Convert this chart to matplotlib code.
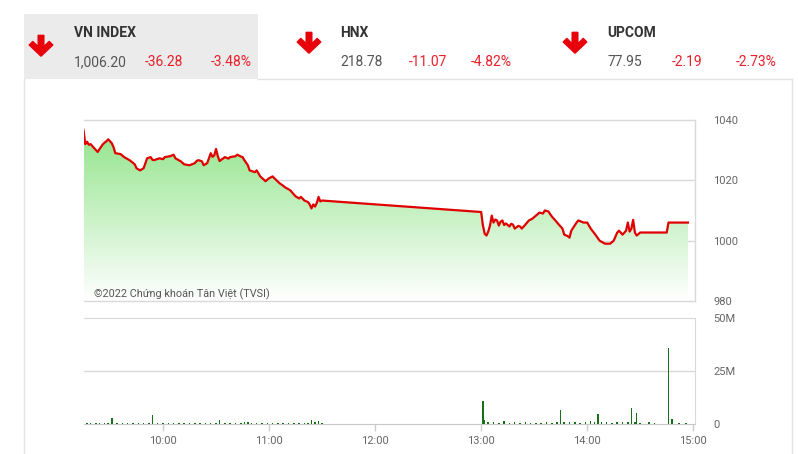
import matplotlib
matplotlib.use("Agg")
import matplotlib.pyplot as plt
import numpy as np
from matplotlib import font_manager as fm
from matplotlib.patches import Rectangle, Polygon

# ---------------- data ----------------
price_times = ["9:15", "9:16", "9:17", "9:18", "9:19", "9:21", "9:23", "9:24", "9:26", "9:28", "9:29",
               "9:31", "9:32", "9:33", "9:36", "9:37", "9:38", "9:41", "9:43", "9:44", "9:45", "9:47",
               "9:49", "9:51", "9:53", "9:54", "9:55", "9:58", "10:00", "10:01", "10:04", "10:06",
               "10:07", "10:10", "10:12", "10:15", "10:18", "10:19", "10:20", "10:22", "10:23", "10:25",
               "10:27", "10:28", "10:29", "10:30", "10:31", "10:32", "10:35", "10:37", "10:38", "10:41",
               "10:42", "10:44", "10:45", "10:46", "10:48", "10:49", "10:52", "10:53", "10:55", "10:58",
               "11:00", "11:02", "11:03", "11:06", "11:08", "11:09", "11:12", "11:13", "11:15", "11:17",
               "11:18", "11:20", "11:22", "11:23", "11:24", "11:25", "11:26", "11:27", "11:28", "11:29",
               "11:30",
               "13:00", "13:01", "13:02", "13:03", "13:04", "13:05", "13:06", "13:07", "13:08", "13:09",
               "13:10", "13:11", "13:12", "13:13", "13:14", "13:16", "13:17", "13:18", "13:19", "13:21",
               "13:22", "13:23", "13:25", "13:27", "13:29", "13:31", "13:33", "13:35", "13:36", "13:38",
               "13:40", "13:42", "13:44", "13:46", "13:47", "13:49", "13:50", "13:51", "13:54", "13:55",
               "13:58", "14:00", "14:02", "14:05", "14:07", "14:10", "14:13", "14:15", "14:17", "14:18",
               "14:20", "14:22", "14:23", "14:24", "14:25", "14:26", "14:27", "14:28", "14:30", "14:45",
               "14:46", "14:57"]
price_values = [1036.7, 1032.0, 1032.8, 1031.8, 1032.0, 1030.7, 1029.4, 1030.3, 1032.0, 1033.0, 1033.6,
                1032.3, 1031.0, 1029.0, 1028.7, 1028.2, 1027.7, 1026.7, 1025.8, 1025.3, 1024.0, 1023.3,
                1024.0, 1027.3, 1027.7, 1026.8, 1026.7, 1027.3, 1027.0, 1027.7, 1028.0, 1028.5,
                1027.3, 1026.3, 1025.3, 1025.0, 1025.7, 1026.4, 1026.7, 1026.3, 1025.0, 1025.7,
                1029.0, 1027.8, 1028.3, 1030.4, 1028.0, 1026.4, 1027.7, 1027.2, 1027.7, 1028.0,
                1028.5, 1027.9, 1027.7, 1026.7, 1025.0, 1023.3, 1022.7, 1023.3, 1021.3, 1019.7,
                1020.7, 1021.3, 1020.7, 1019.0, 1018.2, 1017.7, 1016.7, 1016.0, 1014.7, 1014.0,
                1014.5, 1013.3, 1012.8, 1012.0, 1010.7, 1012.0, 1011.3, 1012.5, 1014.5, 1013.0,
                1013.3,
                1009.5, 1005.0, 1002.3, 1001.7, 1003.0, 1005.0, 1008.3, 1006.0, 1007.0, 1006.7,
                1005.0, 1006.3, 1006.7, 1005.2, 1005.7, 1004.7, 1005.6, 1005.3, 1004.0, 1004.9,
                1004.7, 1004.0, 1005.3, 1006.7, 1007.3, 1008.3, 1009.3, 1009.0, 1010.0, 1009.7,
                1008.0, 1006.7, 1005.3, 1004.0, 1002.0, 1001.5, 1001.0, 1003.3, 1006.0, 1006.7,
                1006.0, 1006.0, 1004.0, 1001.7, 1000.0, 999.0, 999.0, 1000.0, 1002.7, 1003.3,
                1002.0, 1003.3, 1006.0, 1003.0, 1004.0, 1006.9, 1002.7, 1001.7, 1002.7, 1002.7,
                1006.0, 1006.0]

vol_times = ["9:15", "9:17", "9:19", "9:22", "9:24", "9:27", "9:29", "9:31", "9:34", "9:37",
             "9:40", "9:43", "9:46", "9:49", "9:52", "9:54", "9:57", "10:00", "10:03", "10:06",
             "10:09", "10:12", "10:15", "10:18", "10:21", "10:24", "10:27", "10:30", "10:32", "10:35",
             "10:38", "10:41", "10:44", "10:46", "10:48", "10:50", "10:53", "10:56", "10:59", "11:02",
             "11:05", "11:08", "11:11", "11:14", "11:17", "11:20", "11:22", "11:24", "11:26", "11:28",
             "11:30",
             "13:01", "13:02", "13:04", "13:07", "13:10", "13:13", "13:16", "13:19", "13:22", "13:25",
             "13:28", "13:31", "13:34", "13:37", "13:40", "13:43", "13:45", "13:47", "13:50", "13:53",
             "13:56", "13:59", "14:02", "14:04", "14:06", "14:08", "14:11", "14:14", "14:17", "14:20",
             "14:23", "14:25", "14:27", "14:28", "14:30", "14:35", "14:38", "14:46", "14:48", "14:52",
             "14:56"]
vol_values = [5.8, 0.5, 0.4, 0.6, 0.3, 0.5, 0.4, 3.0, 0.5, 0.4,
              0.3, 0.6, 0.4, 0.5, 0.3, 4.4, 0.5, 0.4, 0.6, 0.3,
              0.5, 0.4, 0.3, 0.5, 0.4, 0.6, 0.3, 0.5, 1.7, 0.4,
              0.5, 0.3, 0.6, 0.8, 1.0, 0.7, 0.5, 0.6, 0.4, 0.5,
              0.6, 0.5, 0.7, 0.6, 0.5, 0.7, 0.6, 2.0, 0.8, 1.2,
              0.5,
              11.0, 2.0, 1.0, 0.8, 0.7, 1.2, 0.6, 0.8, 0.5, 0.9,
              0.6, 0.7, 0.5, 0.8, 0.6, 0.9, 6.4, 1.0, 0.8, 1.1,
              0.7, 0.9, 1.2, 0.8, 4.9, 1.0, 0.9, 0.7, 1.1, 0.8,
              1.0, 7.7, 0.9, 5.3, 0.7, 0.8, 0.5, 36.0, 2.5, 0.7,
              0.4]

price_ticks = [980, 1000, 1020, 1040]
vol_ticks = [0, 25, 50]
vol_tick_labels = ["0", "25M", "50M"]
hour_ticks = ["10:00", "11:00", "12:00", "13:00", "14:00", "15:00"]

indices = ["VN INDEX", "HNX", "UPCOM"]
index_values = ["1,006.20", "218.78", "77.95"]
index_changes = ["-36.28", "-11.07", "-2.19"]
index_pcts = ["-3.48%", "-4.82%", "-2.73%"]

copyright_text = "©2022 Chứng khoán Tân Việt (TVSI)"


def to_min(s):
    h, m = s.split(":")
    return int(h) * 60 + int(m) - 540


pt = np.array([to_min(s) for s in price_times], dtype=float)
pv = np.array(price_values)
vt = np.array([to_min(s) for s in vol_times], dtype=float)
vv = np.array(vol_values)
ht = [to_min(s) for s in hour_ticks]

# ---------------- fonts ----------------
names = {f.name for f in fm.fontManager.ttflist}
HEAD_FONT = "Liberation Sans Narrow" if "Liberation Sans Narrow" in names else "Roboto"
plt.rcParams["font.family"] = ["Roboto", "DejaVu Sans"]

W, H = 798, 454
fig = plt.figure(figsize=(W / 100, H / 100), dpi=100)
fig.patch.set_facecolor("white")


def fx(x):
    return x / W


def fy(y):
    return 1 - y / H


# background overlay axes (pixel coords)
bg = fig.add_axes([0, 0, 1, 1], zorder=0)
bg.set_xlim(0, W)
bg.set_ylim(H, 0)
bg.axis("off")
bg.add_patch(Rectangle((24, 14), 234, 65, facecolor="#ebebeb", edgecolor="none"))
border = "#e3e3e3"
bg.plot([24, 24], [79, H], color=border, lw=1)
bg.plot([792, 792], [79, H], color=border, lw=1)
bg.plot([258, 792], [79, 79], color=border, lw=1)

# header
col_x = [74, 340, 607]
chg_x = [145, 409, 672]
pct_x = [211, 471, 736]
arrow_x = [41, 309, 575]
arrow_y = [35, 32, 32]
red = "#e8000b"
arrow_shape = [(-2.7, 0.5), (2.7, 0.5), (2.7, 12.0), (8.2, 6.6), (11.6, 10.0), (0.0, 21.0),
               (-11.6, 10.0), (-8.2, 6.6), (-2.7, 12.0)]
for i in range(3):
    bg.text(col_x[i], 33, indices[i], fontsize=10, fontweight="bold", color="#333333",
            family=HEAD_FONT, va="center", ha="left")
    bg.text(col_x[i], 62, index_values[i], fontsize=10, color="#555555",
            family=HEAD_FONT, va="center", ha="left")
    bg.text(chg_x[i], 62, index_changes[i], fontsize=10, color="#e8202a",
            family=HEAD_FONT, va="center", ha="left")
    bg.text(pct_x[i], 62, index_pcts[i], fontsize=10, color="#e8202a",
            family=HEAD_FONT, va="center", ha="left")
    ax0, ay0 = arrow_x[i], arrow_y[i]
    bg.add_patch(Polygon([(ax0 + dx, ay0 + dy) for dx, dy in arrow_shape], closed=True,
                         facecolor=red, edgecolor=red, lw=1.2, joinstyle="round"))

# ---------------- price axes ----------------
L, R = 83.5, 695
ax = fig.add_axes([fx(L), fy(301), fx(R) - fx(L), fy(120) - fy(301)], zorder=1)
ax.set_xlim(15, 361)
ax.set_ylim(980, 1040)
grid_c = "#d9d9d9"
for v in [1000, 1020]:
    ax.axhline(v, color=grid_c, lw=1, zorder=1)
ax.spines["left"].set_visible(False)
for s in ["top", "bottom", "right"]:
    ax.spines[s].set_color(grid_c)
    ax.spines[s].set_linewidth(1)

poly = ax.fill_between(pt, pv, 980, facecolor="none", edgecolor="none")
grad = np.linspace(0, 1, 256).reshape(-1, 1)
top_c = np.array([0.55, 0.89, 0.52])
bot_c = np.array([1.0, 1.0, 1.0])
img = (top_c[None, None, :] * (1 - grad[:, :, None]) + bot_c[None, None, :] * grad[:, :, None])
im = ax.imshow(img, extent=[15, 361, 980, 1040], origin="upper", aspect="auto", zorder=2)
path = poly.get_paths()[0]
im.set_clip_path(path, transform=ax.transData)
ax.plot(pt, pv, color="#e00000", lw=1.6, zorder=3)

ax.yaxis.tick_right()
ax.set_yticks(price_ticks)
ax.set_yticklabels([str(v) for v in price_ticks])
ax.tick_params(axis="y", length=0, pad=13, labelsize=8, labelcolor="#666666")
ax.set_xticks([])
ax.text(0.017, 0.04, copyright_text, transform=ax.transAxes, fontsize=7.8, color="#555555",
        ha="left", va="center", zorder=4)

# ---------------- volume axes ----------------
vax = fig.add_axes([fx(L), fy(424), fx(R) - fx(L), fy(318) - fy(424)], zorder=1)
vax.set_xlim(15, 361)
vax.set_ylim(0, 50)
vax.axhline(25, color=grid_c, lw=1, zorder=1)
vax.spines["left"].set_visible(False)
for s in ["top", "right"]:
    vax.spines[s].set_color(grid_c)
vax.spines["bottom"].set_color("#c8c8c8")
vax.bar(vt, vv, width=0.85, color="#177017", zorder=3)
vax.yaxis.tick_right()
vax.set_yticks(vol_ticks)
vax.set_yticklabels(vol_tick_labels)
vax.tick_params(axis="y", length=0, pad=13, labelsize=8, labelcolor="#666666")
vax.set_xticks(ht)
vax.set_xticklabels(hour_ticks)
vax.tick_params(axis="x", length=5, width=1, color="#cccccc", pad=4, labelsize=8,
                labelcolor="#666666")

fig.savefig("out.png", dpi=100, facecolor="white")
